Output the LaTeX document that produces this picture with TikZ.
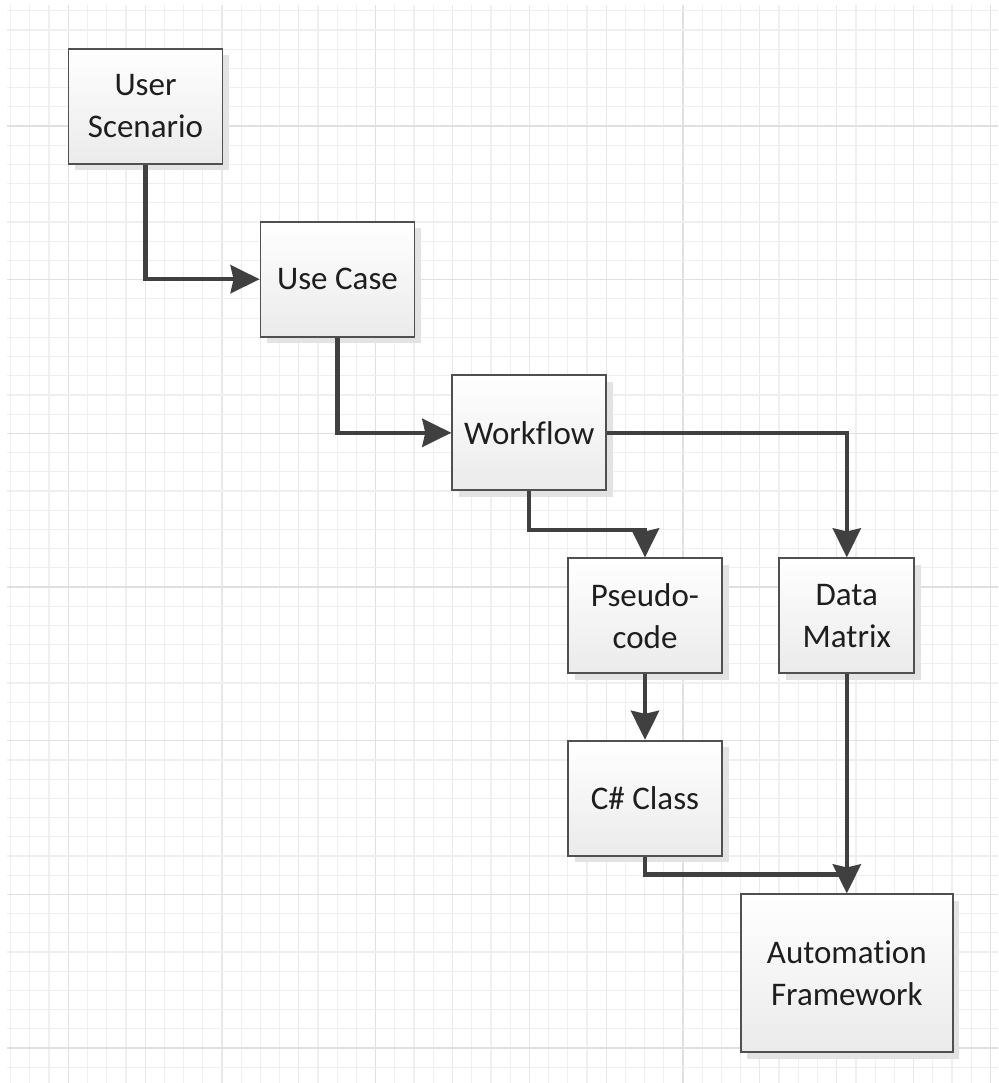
\documentclass[tikz,border=0pt]{standalone}
\usepackage{fontspec}
\setmainfont{Carlito}[Ligatures=NoCommon]
\usetikzlibrary{arrows.meta,shadows}

\definecolor{gridminor}{HTML}{EFEFEF}
\definecolor{gridmid}{HTML}{E8E8E8}
\definecolor{gridmajor}{HTML}{E0E0E0}
\definecolor{edge}{HTML}{505050}
\definecolor{wire}{HTML}{404040}
\definecolor{ink}{HTML}{1E1E1E}

\tikzset{
  box/.style={
    draw=edge, line width=1.8pt, rectangle, inner sep=0pt,
    top color=white, bottom color=black!8,
    drop shadow={shadow xshift=6.5pt, shadow yshift=-6.5pt, fill=black!11, opacity=1},
    text=ink, align=center,
    font=\fontsize{33}{42}\selectfont
  },
  conn/.style={draw=wire, line width=4.5pt,
    -{Stealth[length=29pt, width=28pt, inset=3pt]}},
  plainconn/.style={draw=wire, line width=4.5pt}
}

\begin{document}
\begin{tikzpicture}[x=1pt, y=-1pt]
  \useasboundingbox (0,0) rectangle (998,1083);
  \fill[white] (0,0) rectangle (998,1083);

  % background grid: minor cells, a slightly darker line every 4 columns,
  % darker lines every 16 columns and every 8 rows
  \foreach \k in {0,...,51} {
    \pgfmathsetmacro\gx{10.67+19.21*\k}
    \pgfmathtruncatemacro\mj{mod(\k+13,16)}
    \pgfmathtruncatemacro\md{mod(\k+1,4)}
    \ifnum\mj=0
      \draw[gridmajor, line width=1.3pt] (\gx,5) -- (\gx,1083);
    \else\ifnum\md=0
      \draw[gridmid, line width=1.2pt] (\gx,5) -- (\gx,1083);
    \else
      \draw[gridminor, line width=1.2pt] (\gx,5) -- (\gx,1083);
    \fi\fi
  }
  \foreach \j in {0,...,55} {
    \pgfmathsetmacro\gy{10.74+19.21*\j}
    \pgfmathtruncatemacro\mj{mod(\j+2,8)}
    \ifnum\mj=0
      \draw[gridmajor, line width=1.3pt] (7,\gy) -- (998,\gy);
    \else
      \draw[gridminor, line width=1.2pt] (7,\gy) -- (998,\gy);
    \fi
  }

  % process boxes
  \node[box, minimum width=154pt, minimum height=115pt] (user) at (145.5,106.5) {User\\Scenario};
  \node[box, minimum width=154pt, minimum height=115pt] (usecase) at (337.5,279.2) {Use Case};
  \node[box, minimum width=154pt, minimum height=115pt] (workflow) at (529.2,432.8) {Workflow};
  \node[box, minimum width=154pt, minimum height=115pt] (pseudo) at (645,615.8) {Pseudo-\\code};
  \node[box, minimum width=135pt, minimum height=115pt] (data) at (846.8,615.8) {Data\\Matrix};
  \node[box, minimum width=154pt, minimum height=115pt] (csharp) at (645,798.2) {C\# Class};
  \node[box, minimum width=212pt, minimum height=158pt] (auto) at (846.8,973.3) {Automation\\Framework};

  % bend points: below Workflow, and just above Automation Framework
  \coordinate (wfsplit) at ([yshift=-39pt]workflow.south);
  \coordinate (merge) at ([yshift=19pt]auto.north);

  % connectors
  \draw[conn] (user.south) |- (usecase.west);
  \draw[conn] (usecase.south) |- (workflow.west);
  \draw[conn] (workflow.south) -- (wfsplit) -| (pseudo.north);
  \draw[conn] (workflow.east) -| (data.north);
  \draw[conn] (pseudo.south) -- (csharp.north);
  \draw[plainconn] (csharp.south) |- (merge);
  \draw[conn] (data.south) -- (auto.north);
\end{tikzpicture}
\end{document}
